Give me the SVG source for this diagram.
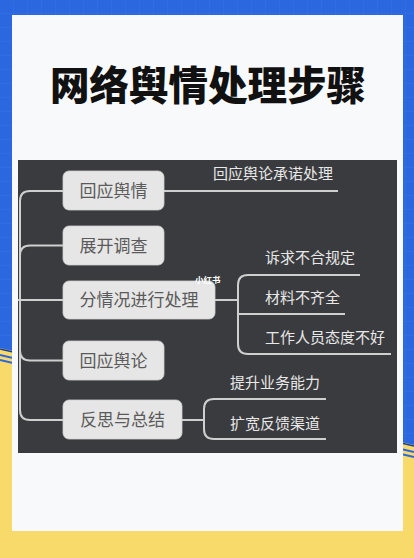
<svg xmlns="http://www.w3.org/2000/svg" width="414" height="558" viewBox="0 0 414 558">
<style>
.node rect{fill:#e6e6e6;stroke:#d0d0d0;stroke-width:0.8}
.node text{font-family:"Noto Sans CJK SC","Noto Sans",sans-serif;font-size:17px;fill:#5a5a5a;text-anchor:middle}
.lbl{font-family:"Noto Sans CJK SC","Noto Sans",sans-serif;font-size:15px;fill:#e8e8e8}
#connectors path{fill:none;stroke:#cfcfcf;stroke-width:2}
</style>
<defs>
<pattern id="grid" width="14" height="14" patternUnits="userSpaceOnUse">
<path d="M14 0V14M0 14H14" stroke="#3d7aeb" stroke-width="1" fill="none" opacity="0.5"/>
</pattern>
</defs>
<rect x="0" y="0" width="414" height="558" fill="#f8da6b"/>
<polygon points="0,0 414,0 414,445 0,348" fill="#2b67df"/>
<polygon points="0,0 414,0 414,445 0,348" fill="url(#grid)"/>
<line x1="0" y1="349" x2="414" y2="446" stroke="#1b3f8f" stroke-width="1.5"/>
<line x1="0" y1="355" x2="414" y2="452" stroke="#2b67df" stroke-width="2"/>
<line x1="0" y1="360" x2="414" y2="457" stroke="#2b67df" stroke-width="2"/>
<rect x="12" y="15" width="391" height="516" fill="#f8f9fb"/>
<text x="208" y="100" font-family="'Noto Sans CJK SC','Noto Sans',sans-serif" font-size="39.5" font-weight="900" fill="#111111" text-anchor="middle">网络舆情处理步骤</text>
<rect x="18" y="160" width="379" height="293" fill="#3a3b3e"/>
<g id="connectors">
<path d="M63 191H30Q20 191 20 201V410Q20 420 30 420H63"/>
<path d="M63 245.5H30Q20 245.5 20 255.5"/>
<path d="M18 300H63"/>
<path d="M20 350.5Q20 360.5 30 360.5H63"/>
<path d="M164 191H338"/>
<path d="M215 300H238"/>
<path d="M360 275H248Q238 275 238 285V344Q238 354 248 354H391"/>
<path d="M238 314H345"/>
<path d="M182 420H204"/>
<path d="M326 399H214Q204 399 204 409V429Q204 439 214 439H326"/>
</g>
<g id="n1" class="node"><rect x="63" y="171" width="101" height="39" rx="6"/><text x="113.5" y="197">回应舆情</text></g>
<g id="n2" class="node"><rect x="63" y="226" width="101" height="39" rx="6"/><text x="113.5" y="252">展开调查</text></g>
<g id="n3" class="node"><rect x="63" y="281" width="152" height="38" rx="6"/><text x="139" y="306">分情况进行处理</text></g>
<g id="n4" class="node"><rect x="63" y="341" width="101" height="39" rx="6"/><text x="113.5" y="367">回应舆论</text></g>
<g id="n5" class="node"><rect x="63" y="400" width="119" height="39" rx="6"/><text x="122.5" y="426">反思与总结</text></g>
<g id="l1"><text class="lbl" x="213" y="179">回应舆论承诺处理</text></g>
<g id="l2"><text class="lbl" x="265" y="263">诉求不合规定</text></g>
<g id="l3"><text class="lbl" x="265" y="303">材料不齐全</text></g>
<g id="l4"><text class="lbl" x="265" y="343">工作人员态度不好</text></g>
<g id="l5"><text class="lbl" x="230" y="388">提升业务能力</text></g>
<g id="l6"><text class="lbl" x="230" y="429">扩宽反馈渠道</text></g>
<text x="195" y="283" font-family="'Noto Sans CJK SC',sans-serif" font-size="8.5" font-weight="bold" fill="#ffffff">小红书</text>
</svg>
